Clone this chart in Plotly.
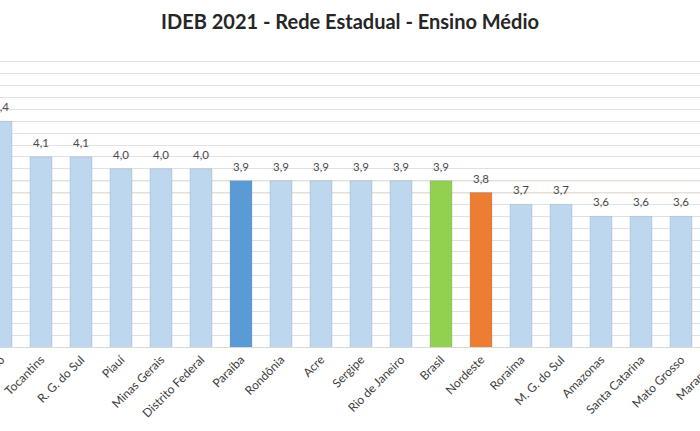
import plotly.graph_objects as go

categories = ["Espírito Santo", "Tocantins", "R. G. do Sul", "Piauí", "Minas Gerais",
              "Distrito Federal", "Paraíba", "Rondônia", "Acre", "Sergipe",
              "Rio de Janeiro", "Brasil", "Nordeste", "Roraima", "M. G. do Sul",
              "Amazonas", "Santa Catarina", "Mato Grosso"]
values = [4.4, 4.1, 4.1, 4.0, 4.0, 4.0, 3.9, 3.9, 3.9, 3.9, 3.9, 3.9, 3.8, 3.7, 3.7, 3.6, 3.6, 3.6]
next_category = "Maranhão"

highlight = {"Paraíba": "#5B9BD5", "Brasil": "#92D050", "Nordeste": "#ED7D31"}
base_color = "#BDD7EE"
colors = [highlight.get(c, base_color) for c in categories]

brasil_value = values[categories.index("Brasil")]
nordeste_value = values[categories.index("Nordeste")]

x_range = [-0.025, 17.475]

fig = go.Figure()
fig.add_trace(go.Bar(
    x=categories, y=values,
    marker=dict(color=colors, line=dict(color="rgba(120,140,160,0.25)", width=1)),
    width=0.55,
    hoverinfo="skip",
))

annotations = []
for c, v in zip(categories, values):
    annotations.append(dict(
        x=c, y=v, xref="x", yref="y",
        text=f"{v:.1f}".replace(".", ","),
        showarrow=False, yanchor="bottom", yshift=6,
        font=dict(family="Lato", size=11.5, color="#4A4A4A"),
    ))

# partially visible next category label at the right edge
idx_next = len(categories)
annotations.append(dict(
    x=(idx_next - x_range[0]) / (x_range[1] - x_range[0]) + 0.005, y=0,
    xref="paper", yref="paper",
    text=next_category, textangle=-45,
    showarrow=False, xanchor="right", yanchor="top", yshift=-4,
    font=dict(family="Lato", size=12, color="#404040"),
))

shapes = [
    dict(type="line", xref="paper", x0=0, x1=1, yref="y", y0=brasil_value, y1=brasil_value,
         line=dict(color="#B5D99C", width=1.2), layer="below"),
    dict(type="line", xref="paper", x0=0, x1=1, yref="y", y0=nordeste_value, y1=nordeste_value,
         line=dict(color="#F2B48C", width=1.2), layer="below"),
]

fig.update_layout(
    width=700, height=431,
    margin=dict(l=0, r=0, t=50, b=84),
    paper_bgcolor="white", plot_bgcolor="white",
    title=dict(text="<b>IDEB 2021 - Rede Estadual - Ensino Médio</b>",
               x=0.5, xanchor="center", y=0.948, yanchor="middle",
               font=dict(family="Lato", size=20, color="#262626")),
    showlegend=False,
    annotations=annotations,
    shapes=shapes,
    xaxis=dict(range=x_range, tickangle=-45, automargin=False,
               tickfont=dict(family="Lato", size=12, color="#404040"),
               showgrid=False, showline=True, linecolor="#D9D9D9", ticks=""),
    yaxis=dict(range=[2.5, 5.0001], tick0=2.5, dtick=0.1, showticklabels=False,
               showgrid=True, gridcolor="#E1E1E1", gridwidth=1, zeroline=False,
               automargin=False),
)

fig.write_html("out.html")
